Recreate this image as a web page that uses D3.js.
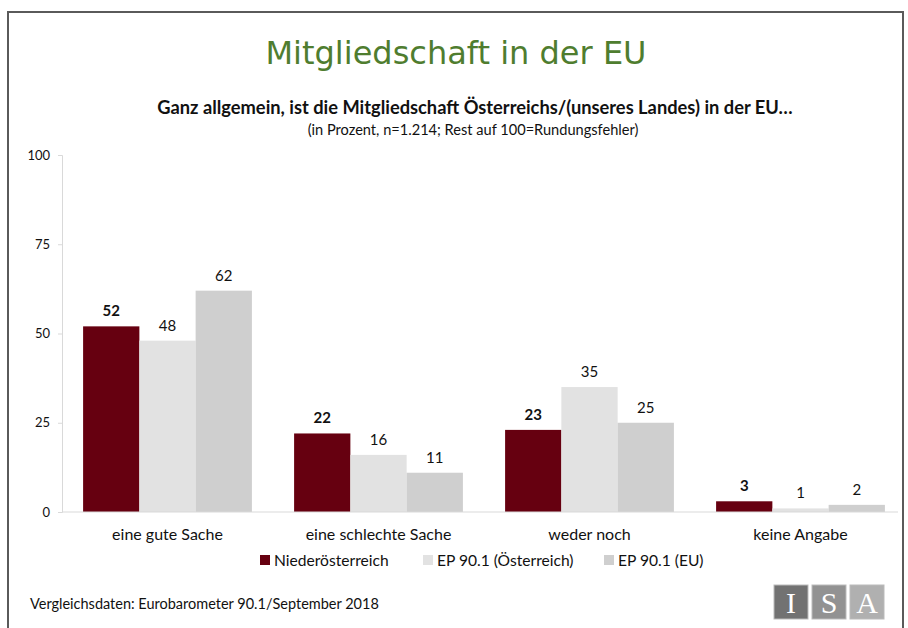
<!DOCTYPE html>
<html>
<head>
<meta charset="utf-8">
<script src="https://cdn.jsdelivr.net/npm/d3@7"></script>
<style>
  body { margin: 0; background: #fff; }
  svg { display: block; }
</style>
</head>
<body>
<div id="chart"></div>
<script>
const categories = ["eine gute Sache", "eine schlechte Sache", "weder noch", "keine Angabe"];
const seriesNames = ["Niederösterreich", "EP 90.1 (Österreich)", "EP 90.1 (EU)"];
const niederoesterreich = [52, 22, 23, 3];
const epOesterreich = [48, 16, 35, 1];
const epEU = [62, 11, 25, 2];
const yTicks = [0, 25, 50, 75, 100];

const colors = ["#660010", "#e2e2e2", "#cfcfcf"];
const font = "Lato, 'Open Sans', sans-serif";

const W = 908, H = 628;
const margin = { top: 155, right: 2, bottom: 116, left: 62 };
const width = W - margin.left - margin.right;
const height = H - margin.top - margin.bottom;

const svg = d3.select("#chart").append("svg")
    .attr("width", W)
    .attr("height", H);

// frame
svg.append("path")
    .attr("d", `M8,${H} V12 H903 V${H}`)
    .attr("fill", "none")
    .attr("stroke", "#5a5a5a")
    .attr("stroke-width", 2);

// titles
svg.append("text")
    .attr("x", 456).attr("y", 64)
    .attr("text-anchor", "middle")
    .attr("fill", "#4f7d2f")
    .style("font-family", "'DejaVu Sans', Verdana, sans-serif")
    .style("font-size", "32px")
    .text("Mitgliedschaft in der EU");

svg.append("text")
    .attr("x", 475).attr("y", 114)
    .attr("text-anchor", "middle")
    .attr("fill", "#111")
    .style("font-family", font)
    .style("font-weight", "bold")
    .style("font-size", "18.3px")
    .text("Ganz allgemein, ist die Mitgliedschaft Österreichs/(unseres Landes) in der EU…");

svg.append("text")
    .attr("x", 473).attr("y", 135)
    .attr("text-anchor", "middle")
    .attr("fill", "#111")
    .style("font-family", font)
    .style("font-size", "14.6px")
    .text("(in Prozent, n=1.214; Rest auf 100=Rundungsfehler)");

const g = svg.append("g")
    .attr("transform", `translate(${margin.left},${margin.top})`);

const x0 = d3.scaleBand()
    .domain(categories)
    .range([0, 844])
    .paddingInner(0.2)
    .paddingOuter(0.1);

const x1 = d3.scaleBand()
    .domain(seriesNames)
    .range([0, x0.bandwidth()]);

const y = d3.scaleLinear()
    .domain([0, 100])
    .range([height, 0]);

// y axis
const yAxis = g.append("g")
    .call(d3.axisLeft(y).tickValues(yTicks).tickSize(4).tickPadding(8));
yAxis.select(".domain").attr("stroke", "#d9d9d9");
yAxis.selectAll(".tick line").attr("stroke", "#d9d9d9");
yAxis.selectAll(".tick text")
    .attr("fill", "#111")
    .style("font-family", font)
    .style("font-size", "13px");

const data = categories.map((c, i) => ({
    category: c,
    values: [niederoesterreich[i], epOesterreich[i], epEU[i]].map((v, j) => ({ series: seriesNames[j], idx: j, value: v }))
}));

const groups = g.selectAll(".group")
    .data(data)
    .enter().append("g")
    .attr("transform", d => `translate(${x0(d.category)},0)`);

groups.selectAll("rect")
    .data(d => d.values)
    .enter().append("rect")
    .attr("x", d => x1(d.series))
    .attr("y", d => y(d.value))
    .attr("width", x1.bandwidth())
    .attr("height", d => height - y(d.value))
    .attr("fill", d => colors[d.idx]);

groups.selectAll(".val")
    .data(d => d.values)
    .enter().append("text")
    .attr("x", d => x1(d.series) + x1.bandwidth() / 2)
    .attr("y", d => y(d.value) - 10)
    .attr("text-anchor", "middle")
    .attr("fill", "#111")
    .style("font-family", font)
    .style("font-size", "15px")
    .style("font-weight", d => d.idx === 0 ? "bold" : "normal")
    .text(d => d.value);

// baseline
g.append("line")
    .attr("x1", 0).attr("x2", 836)
    .attr("y1", height).attr("y2", height)
    .attr("stroke", "#d9d9d9");

// category labels
g.selectAll(".cat")
    .data(categories)
    .enter().append("text")
    .attr("x", d => x0(d) + x0.bandwidth() / 2)
    .attr("y", height + 28)
    .attr("text-anchor", "middle")
    .attr("fill", "#111")
    .style("font-family", font)
    .style("font-size", "16px")
    .text(d => d);

// legend
const legendX = [260, 423, 604];
const legend = svg.append("g");
seriesNames.forEach((s, i) => {
    legend.append("rect")
        .attr("x", legendX[i]).attr("y", 555)
        .attr("width", 10).attr("height", 10)
        .attr("fill", colors[i]);
    legend.append("text")
        .attr("x", legendX[i] + 14).attr("y", 566)
        .attr("fill", "#111")
        .style("font-family", font)
        .style("font-size", "15.6px")
        .text(s);
});

// footer
svg.append("text")
    .attr("x", 30).attr("y", 609)
    .attr("fill", "#111")
    .style("font-family", font)
    .style("font-size", "14.5px")
    .text("Vergleichsdaten: Eurobarometer 90.1/September 2018");

// ISA logo
const logo = svg.append("g").attr("transform", "translate(774,585)");
["I", "S", "A"].forEach((l, i) => {
    logo.append("rect")
        .attr("x", i * 38).attr("y", 0)
        .attr("width", 34).attr("height", 34)
        .attr("fill", ["#727272", "#929292", "#b0b0b0"][i])
        .attr("stroke", "#bbb");
    logo.append("text")
        .attr("x", i * 38 + 17).attr("y", 28)
        .attr("text-anchor", "middle")
        .attr("fill", "#fff")
        .style("font-family", "'Liberation Serif', 'DejaVu Serif', serif")
        .style("font-size", "30px")
        .text(l);
});
</script>
</body>
</html>
